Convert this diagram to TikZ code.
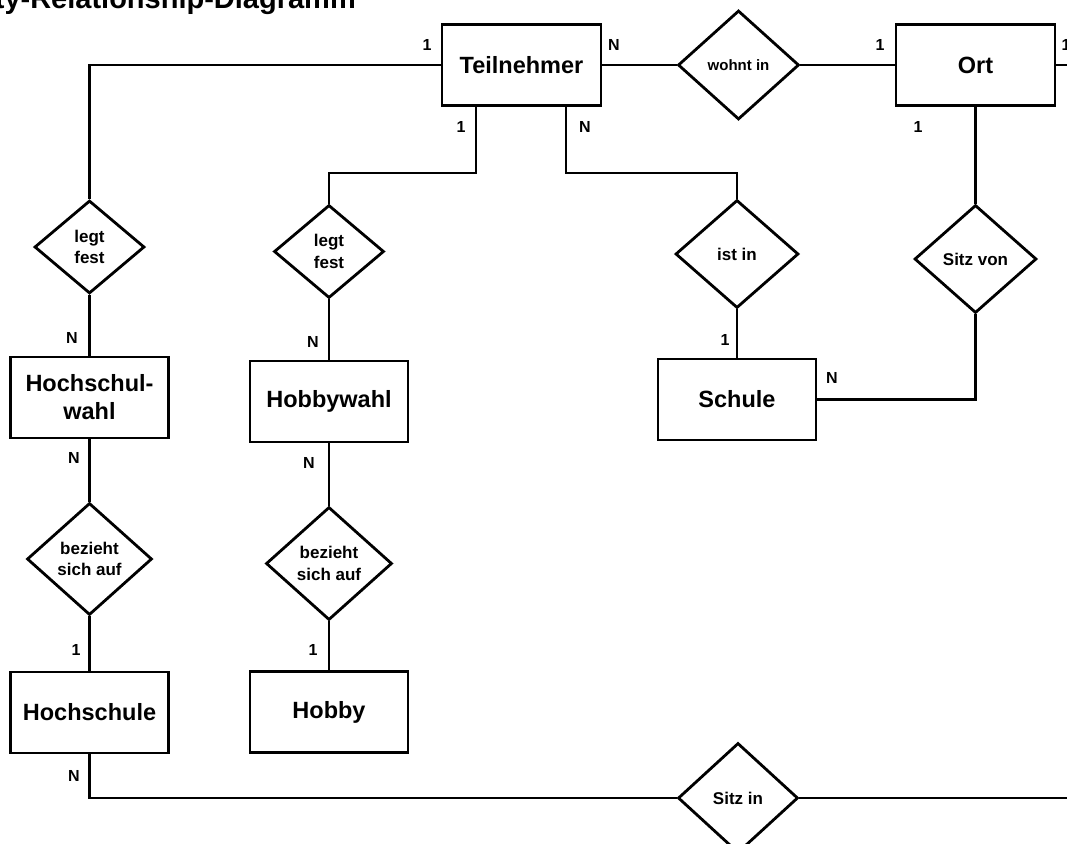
\documentclass[tikz,border=0pt]{standalone}
\usepackage{fontspec}
\setmainfont{Liberation Sans}
\usetikzlibrary{shapes.geometric}
\begin{document}
\begin{tikzpicture}[x=1pt,y=-1pt,
  ent/.style={draw, line width=2.8pt, rectangle, minimum width=158, minimum height=81, inner sep=0, font=\fontsize{23.5}{28}\selectfont\bfseries, align=center},
  rel/.style={draw, line width=2.8pt, diamond, inner sep=0, font=\fontsize{17}{21.5}\selectfont\bfseries, align=center},
  card/.style={font=\fontsize{16}{19}\selectfont\bfseries, inner sep=0},
  conn/.style={line width=2.8pt, line join=miter}]
\useasboundingbox (0,0) rectangle (1067,843);
\clip (0,0) rectangle (1067,843);

\node[anchor=base east, inner sep=0, font=\fontsize{29}{34}\selectfont\bfseries] (title) at (356,9) {Entity-Relationship-Diagramm};

% entities
\node[ent, minimum width=159] (T) at (521.5,65) {Teilnehmer};
\node[ent, minimum width=159] (O) at (975.5,65) {Ort};
\node[ent] (HW) at (89.5,397.5) {Hochschul-\\wahl};
\node[ent] (HS) at (89.5,712.5) {Hochschule};
\node[ent] (HB) at (329,401.5) {Hobbywahl};
\node[ent] (HO) at (329,712) {Hobby};
\node[ent] (S) at (737,399.5) {Schule};

% relationships
\node[rel, minimum width=121, minimum height=109, font=\fontsize{15}{18}\selectfont\bfseries] (W) at (738.5,65) {wohnt in};
\node[rel, minimum width=110, minimum height=93] (L1) at (89.5,247) {legt\\fest};
\node[rel, minimum width=125, minimum height=112] (B1) at (89.5,559) {bezieht\\sich auf};
\node[rel, minimum width=110, minimum height=93] (L2) at (329,251.5) {legt\\fest};
\node[rel, minimum width=126, minimum height=113] (B2) at (329,563.5) {bezieht\\sich auf};
\node[rel, minimum width=123, minimum height=108] (I) at (737,254) {ist in};
\node[rel, minimum width=122, minimum height=108] (SV) at (975.5,259) {Sitz von};
\node[rel, minimum width=120, minimum height=110] (SI) at (738,798) {Sitz in};

% helper coordinates
\coordinate (k2) at (476,173);
\coordinate (k3) at (566,173);
\coordinate (edgeO) at (1067,65);
\coordinate (edgeS) at (1067,798);

% connectors
\draw[conn] (T.west) -| (L1.north);
\draw[conn] (L1.south) -- (HW.north);
\draw[conn] (HW.south) -- (B1.north);
\draw[conn] (B1.south) -- (HS.north);
\draw[conn] (HS.south) |- (SI.west);
\draw[conn] (SI.east) -- (edgeS);
\draw[conn] (T.south -| k2) -- (k2) -| (L2.north);
\draw[conn] (L2.south) -- (HB.north);
\draw[conn] (HB.south) -- (B2.north);
\draw[conn] (B2.south) -- (HO.north);
\draw[conn] (T.south -| k3) -- (k3) -| (I.north);
\draw[conn] (I.south) -- (S.north);
\draw[conn] (S.east) -| (SV.south);
\draw[conn] (SV.north) -- (O.south);
\draw[conn] (T.east) -- (W.west);
\draw[conn] (W.east) -- (O.west);
\draw[conn] (O.east) -- (edgeO);

% cardinalities
\node[card] (c1) at (427,45) {1};
\node[card] (c2) at (614,45) {N};
\node[card] (c3) at (461,127) {1};
\node[card] (c4) at (585,127) {N};
\node[card] (c5) at (880,45) {1};
\node[card] (c6) at (918,127) {1};
\node[card] (c7) at (1066,45) {1};
\node[card] (c8) at (72,338) {N};
\node[card] (c9) at (74,458) {N};
\node[card] (c10) at (76,650) {1};
\node[card] (c11) at (74,776) {N};
\node[card] (c12) at (313,342) {N};
\node[card] (c13) at (309,463) {N};
\node[card] (c14) at (313,650) {1};
\node[card] (c15) at (725,340) {1};
\node[card] (c16) at (832,378) {N};
\end{tikzpicture}
\end{document}
